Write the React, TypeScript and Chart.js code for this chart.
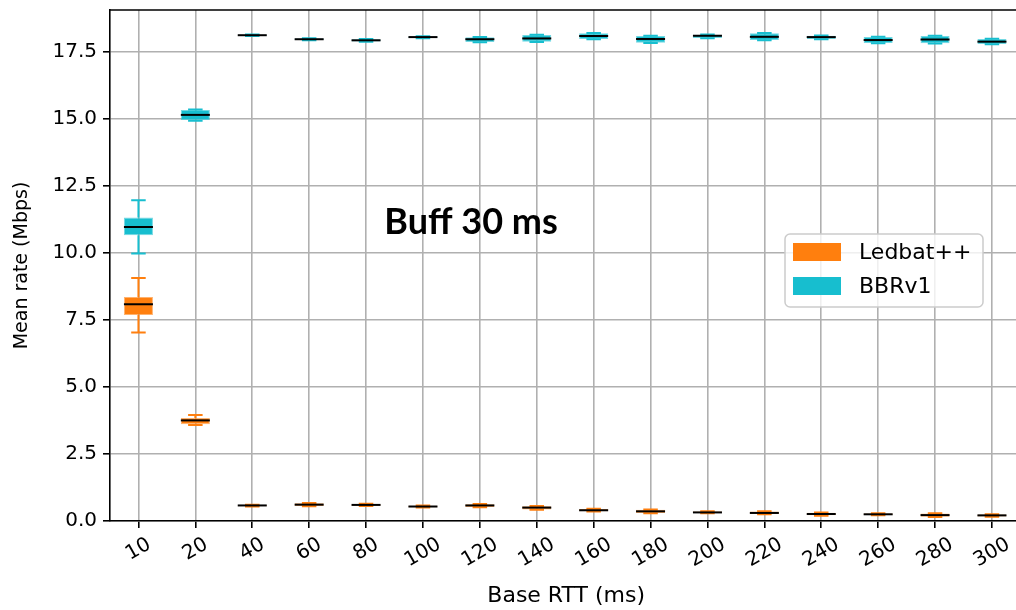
import { useEffect, useRef } from "react";
import { Chart, registerables } from "chart.js";

Chart.register(...registerables);

// Base RTT categories (ms)
const rttLabels = ["10", "20", "40", "60", "80", "100", "120", "140", "160", "180", "200", "220", "240", "260", "280", "300"];
const yTickValues = [0, 2.5, 5, 7.5, 10, 12.5, 15, 17.5];

// Ledbat++ mean rate distribution (Mbps): whisker low, Q1, median, Q3, whisker high
const ledbatLow = [7.03, 3.58, 0.54, 0.55, 0.56, 0.5, 0.51, 0.42, 0.35, 0.29, 0.29, 0.25, 0.2, 0.21, 0.15, 0.16];
const ledbatQ1 = [7.68, 3.61, 0.55, 0.56, 0.57, 0.51, 0.52, 0.43, 0.36, 0.3, 0.3, 0.26, 0.21, 0.22, 0.16, 0.17];
const ledbatMedian = [8.08, 3.75, 0.58, 0.61, 0.6, 0.54, 0.58, 0.5, 0.4, 0.36, 0.32, 0.3, 0.26, 0.25, 0.22, 0.21];
const ledbatQ3 = [8.35, 3.84, 0.6, 0.66, 0.62, 0.57, 0.62, 0.55, 0.45, 0.42, 0.35, 0.35, 0.31, 0.28, 0.28, 0.24];
const ledbatHigh = [9.06, 3.95, 0.61, 0.67, 0.64, 0.58, 0.63, 0.56, 0.46, 0.43, 0.36, 0.36, 0.32, 0.29, 0.29, 0.25];

// BBRv1 mean rate distribution (Mbps)
const bbrLow = [9.97, 14.92, 18.08, 17.92, 17.87, 18.0, 17.85, 17.86, 17.96, 17.82, 18.0, 17.92, 17.96, 17.81, 17.8, 17.77];
const bbrQ1 = [10.65, 14.95, 18.09, 17.93, 17.88, 18.01, 17.86, 17.87, 17.97, 17.83, 18.01, 17.93, 17.97, 17.82, 17.81, 17.78];
const bbrMedian = [10.96, 15.14, 18.11, 17.96, 17.92, 18.04, 17.96, 17.99, 18.08, 17.97, 18.09, 18.05, 18.04, 17.93, 17.95, 17.87];
const bbrQ3 = [11.31, 15.32, 18.13, 17.99, 17.96, 18.06, 18.03, 18.12, 18.18, 18.08, 18.13, 18.18, 18.09, 18.04, 18.08, 17.97];
const bbrHigh = [11.96, 15.34, 18.14, 18.0, 17.97, 18.07, 18.04, 18.13, 18.19, 18.09, 18.14, 18.19, 18.1, 18.05, 18.09, 17.98];

const ORANGE = "#ff7f0e";
const CYAN = "#17becf";
const FONT = "'DejaVu Sans', sans-serif";

const series = [
  { name: "Ledbat++", color: ORANGE, low: ledbatLow, q1: ledbatQ1, med: ledbatMedian, q3: ledbatQ3, high: ledbatHigh },
  { name: "BBRv1", color: CYAN, low: bbrLow, q1: bbrQ1, med: bbrMedian, q3: bbrQ3, high: bbrHigh },
];

// Whiskers, caps and medians drawn on top of the floating-bar boxes
const whiskerPlugin = {
  id: "whiskers",
  afterDatasetsDraw(chart: any) {
    const { ctx } = chart;
    const xs = chart.scales.x;
    const ys = chart.scales.y;
    series.forEach((s, di) => {
      const meta = chart.getDatasetMeta(di);
      s.med.forEach((_, i) => {
        const bar = meta.data[i];
        const cx = xs.getPixelForValue(i);
        const half = bar.width / 2;
        const capHalf = half / 2;
        const yLow = ys.getPixelForValue(s.low[i]);
        const yQ1 = ys.getPixelForValue(s.q1[i]);
        const yQ3 = ys.getPixelForValue(s.q3[i]);
        const yHigh = ys.getPixelForValue(s.high[i]);
        const yMed = ys.getPixelForValue(s.med[i]);
        ctx.save();
        ctx.strokeStyle = s.color;
        ctx.lineWidth = 2;
        ctx.beginPath();
        ctx.moveTo(cx, yQ3);
        ctx.lineTo(cx, yHigh);
        ctx.moveTo(cx, yQ1);
        ctx.lineTo(cx, yLow);
        ctx.moveTo(cx - capHalf, yHigh);
        ctx.lineTo(cx + capHalf, yHigh);
        ctx.moveTo(cx - capHalf, yLow);
        ctx.lineTo(cx + capHalf, yLow);
        ctx.stroke();
        ctx.strokeStyle = "#000";
        ctx.beginPath();
        ctx.moveTo(cx - half, yMed);
        ctx.lineTo(cx + half, yMed);
        ctx.stroke();
        ctx.restore();
      });
    });
  },
};

// Frame, rotated category labels, axis titles, annotation and legend
const decorPlugin = {
  id: "decor",
  afterDraw(chart: any) {
    const { ctx, chartArea } = chart;
    const xs = chart.scales.x;
    ctx.save();
    // top and right spines
    ctx.strokeStyle = "#000";
    ctx.lineWidth = 1.6;
    ctx.beginPath();
    ctx.moveTo(chartArea.left, chartArea.top);
    ctx.lineTo(chartArea.right, chartArea.top);
    ctx.lineTo(chartArea.right, chartArea.bottom);
    ctx.stroke();

    // rotated x tick labels, centred under each tick
    ctx.fillStyle = "#000";
    ctx.font = `20px ${FONT}`;
    const ang = (30 * Math.PI) / 180;
    const h = 20 * 1.16;
    rttLabels.forEach((lab, i) => {
      const cx = xs.getPixelForValue(i);
      const w = ctx.measureText(lab).width;
      const bboxH = w * Math.sin(ang) + h * Math.cos(ang);
      const cy = chartArea.bottom + 12 + bboxH / 2;
      ctx.save();
      ctx.translate(cx, cy);
      ctx.rotate(-ang);
      ctx.textAlign = "center";
      ctx.textBaseline = "middle";
      ctx.fillText(lab, 0, 0);
      ctx.restore();
    });

    // axis titles
    ctx.textAlign = "center";
    ctx.textBaseline = "middle";
    ctx.font = `22px ${FONT}`;
    ctx.fillText("Base RTT (ms)", (chartArea.left + chartArea.right) / 2 + 1, 596);
    ctx.font = `19px ${FONT}`;
    ctx.save();
    ctx.translate(22, (chartArea.top + chartArea.bottom) / 2);
    ctx.rotate(-Math.PI / 2);
    ctx.fillText("Mean rate (Mbps)", 0, 0);
    ctx.restore();

    // annotation
    ctx.font = `bold 36px Lato, 'Open Sans', sans-serif`;
    ctx.fillText("Buff 30 ms", 471, 222);

    // legend
    const lx = 785, ly = 234, lw = 198, lh = 73, r = 5;
    ctx.beginPath();
    ctx.moveTo(lx + r, ly);
    ctx.arcTo(lx + lw, ly, lx + lw, ly + lh, r);
    ctx.arcTo(lx + lw, ly + lh, lx, ly + lh, r);
    ctx.arcTo(lx, ly + lh, lx, ly, r);
    ctx.arcTo(lx, ly, lx + lw, ly, r);
    ctx.closePath();
    ctx.fillStyle = "rgba(255,255,255,0.8)";
    ctx.fill();
    ctx.strokeStyle = "#cccccc";
    ctx.lineWidth = 1.5;
    ctx.stroke();
    ctx.font = `22px ${FONT}`;
    ctx.textAlign = "left";
    series.forEach((s, k) => {
      const py = 243 + k * 34;
      ctx.fillStyle = s.color;
      ctx.fillRect(793, py, 48, 18);
      ctx.fillStyle = "#000";
      ctx.fillText(s.name, 859, py + 10);
    });
    ctx.restore();
  },
};

export default function App() {
  const canvasRef = useRef<HTMLCanvasElement>(null);

  useEffect(() => {
    const canvas = canvasRef.current;
    if (!canvas) return;
    const chart = new Chart(canvas, {
      type: "bar",
      data: {
        labels: rttLabels,
        datasets: series.map((s) => ({
          label: s.name,
          data: s.q1.map((v, i) => [v, s.q3[i]]),
          backgroundColor: s.color,
          borderColor: s.color + "99",
          borderWidth: 1,
          borderSkipped: false,
          grouped: false,
          categoryPercentage: 1,
          barPercentage: 0.51,
        })),
      },
      options: {
        animation: false,
        responsive: false,
        devicePixelRatio: 1,
        layout: { padding: { top: 10, right: 19.6, left: 0, bottom: 0 } },
        plugins: { legend: { display: false }, tooltip: { enabled: false } },
        scales: {
          x: {
            type: "category",
            offset: true,
            grid: { offset: false, color: "#b0b0b0", lineWidth: 1.6, tickColor: "#000", tickLength: 7, tickWidth: 1.6 },
            border: { color: "#000", width: 1.6 },
            ticks: { display: false, autoSkip: false },
            afterFit: (scale: any) => {
              scale.height = 89;
              scale.paddingLeft = 0;
              scale.paddingRight = 0;
            },
          },
          y: {
            min: 0,
            max: 19.05,
            grid: { color: "#b0b0b0", lineWidth: 1.6, tickColor: "#000", tickLength: 7, tickWidth: 1.6 },
            border: { color: "#000", width: 1.6 },
            afterBuildTicks: (scale: any) => {
              scale.ticks = yTickValues.map((v) => ({ value: v }));
            },
            ticks: {
              color: "#000",
              padding: 6,
              font: { family: FONT, size: 20 },
              callback: (v: any) => Number(v).toFixed(1),
            },
            afterFit: (scale: any) => {
              scale.width = 110;
              scale.paddingTop = 0;
              scale.paddingBottom = 0;
            },
          },
        },
      },
      plugins: [whiskerPlugin, decorPlugin],
    });
    return () => chart.destroy();
  }, []);

  return (
    <div style={{ position: "absolute", left: 0, top: 0, width: 1016, height: 610, overflow: "hidden", background: "#fff" }}>
      <canvas ref={canvasRef} width={1040} height={610} />
    </div>
  );
}
